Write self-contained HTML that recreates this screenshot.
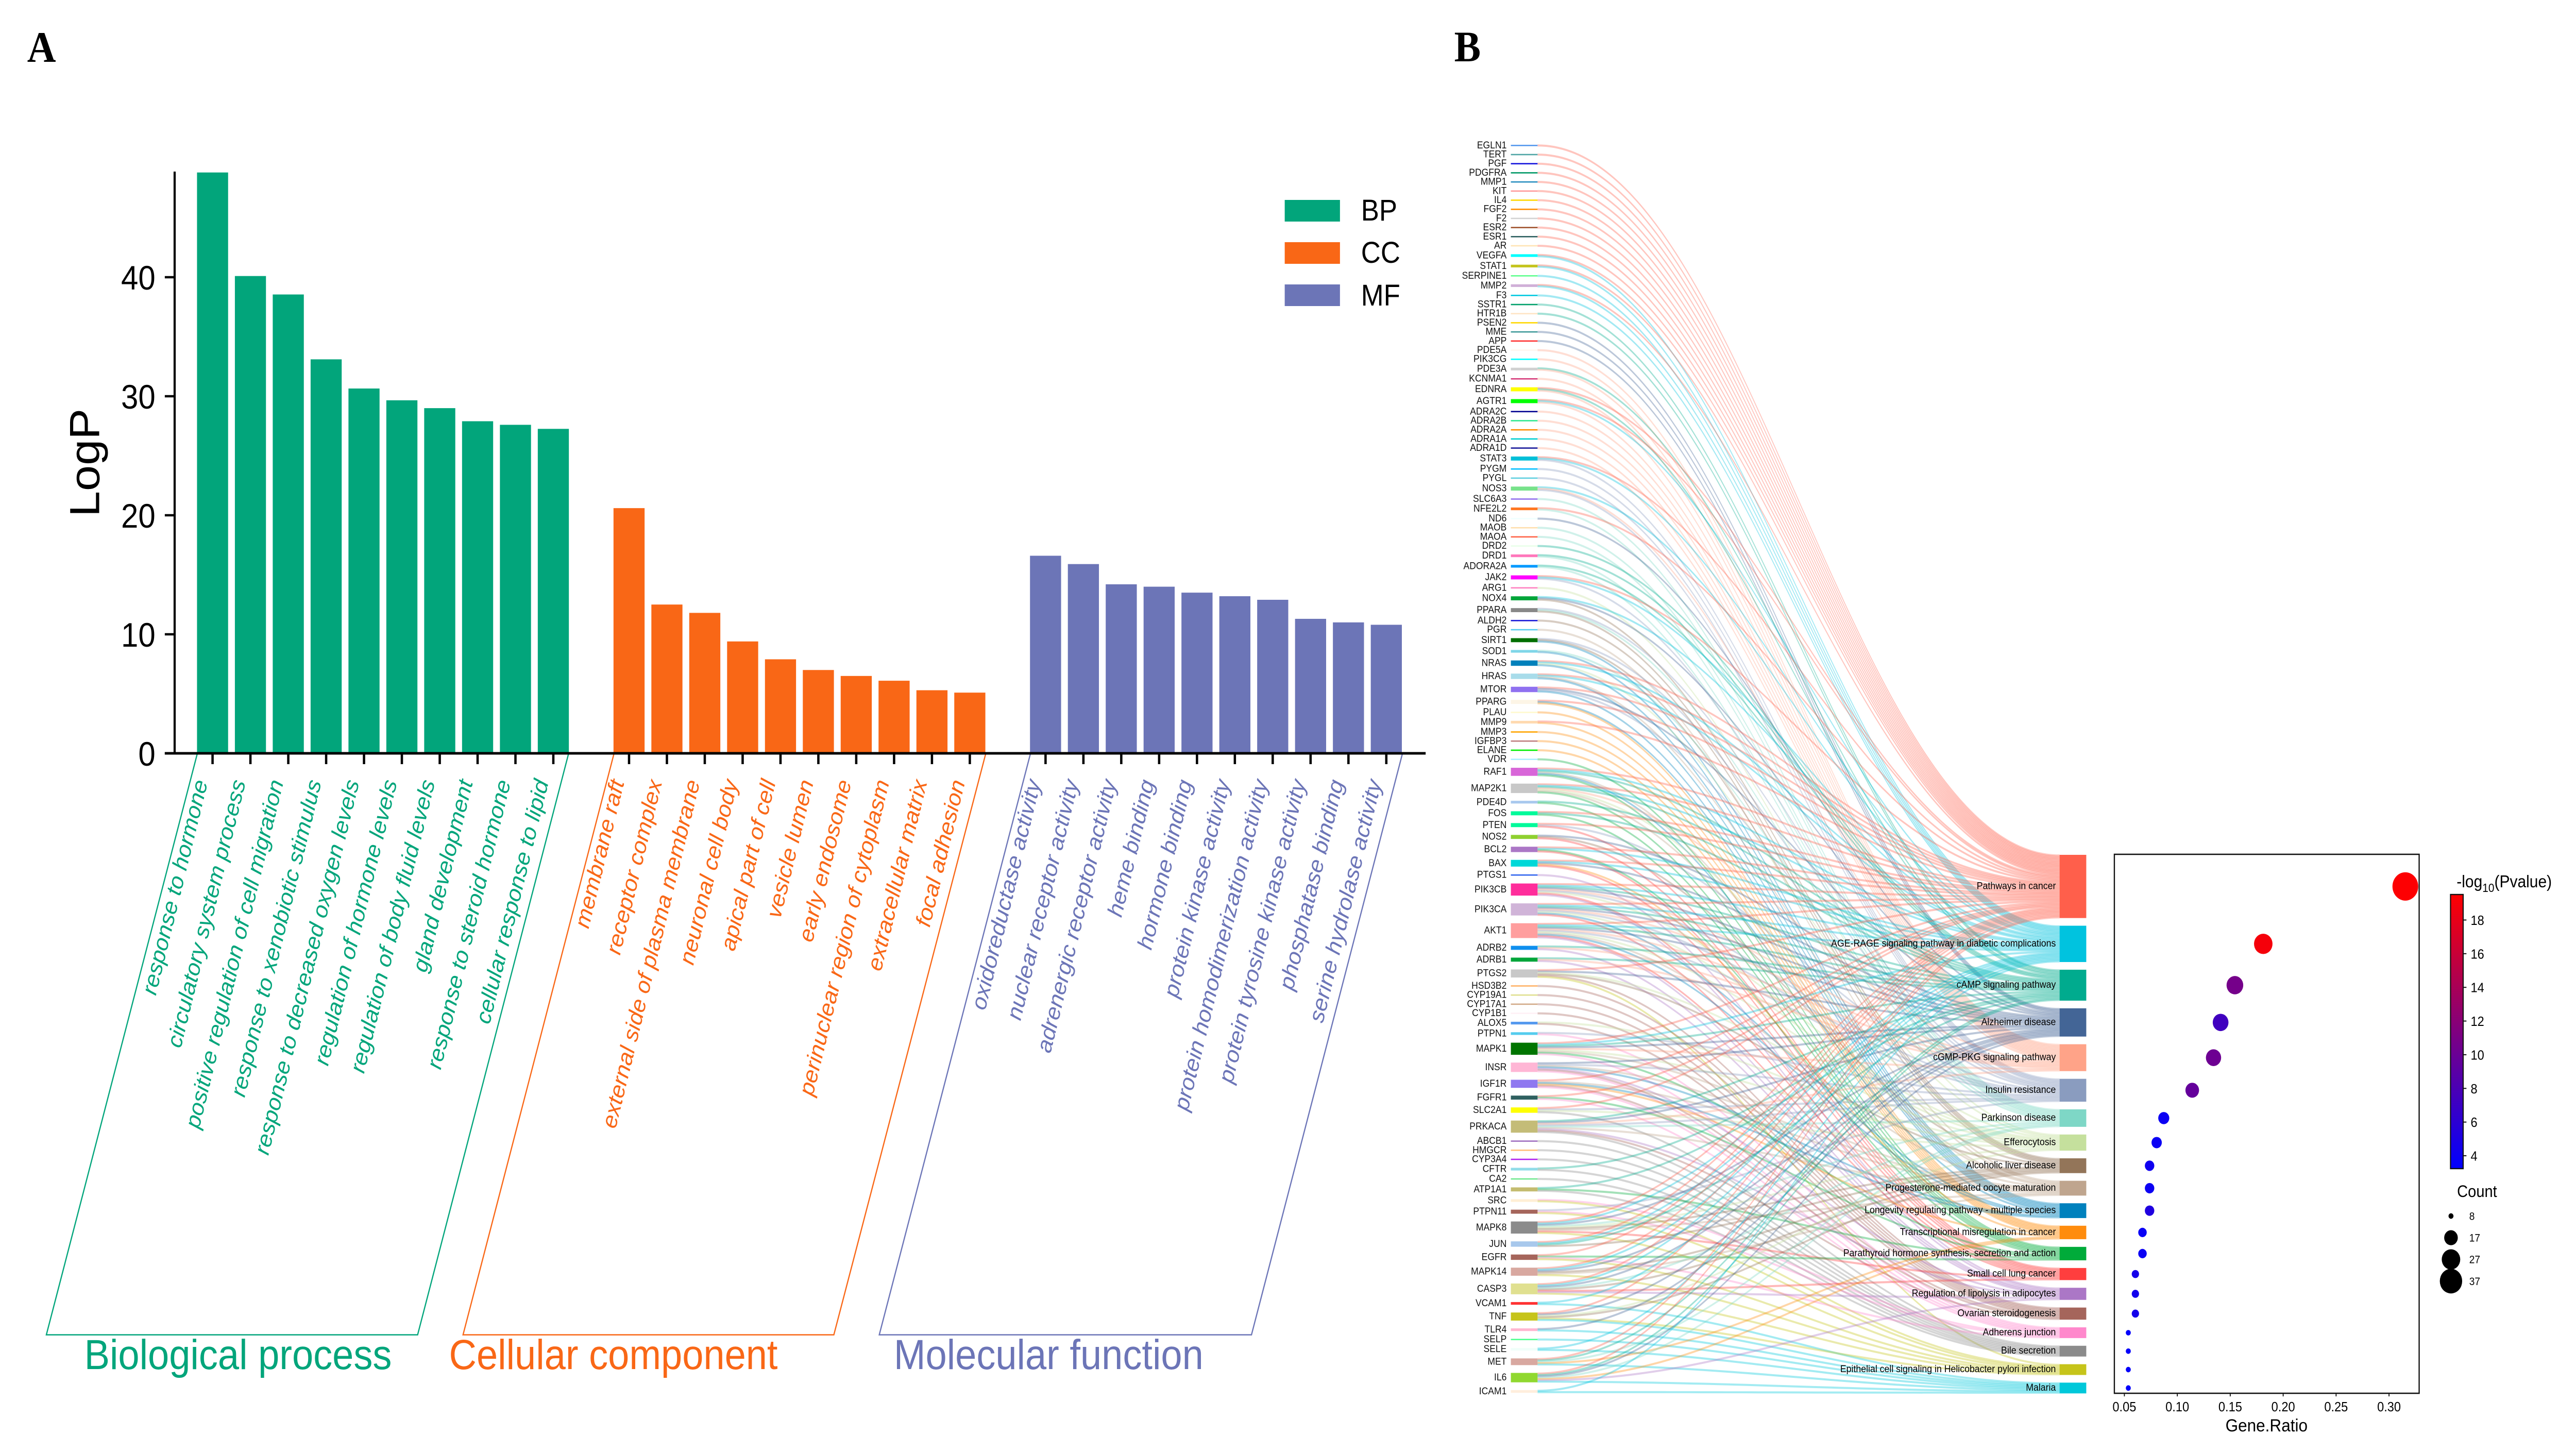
<!DOCTYPE html>
<html lang="en">
<head>
<meta charset="utf-8">
<title>GO enrichment and KEGG Sankey dot plot</title>
<style>
html,body{margin:0;padding:0;background:#fff;width:100%;height:100%;overflow:hidden;}
svg{display:block;position:absolute;left:0;top:0;width:100vw;height:100vh;}
text{font-family:"Liberation Sans",sans-serif;}
</style>
</head>
<body>
<svg id="figure" xmlns="http://www.w3.org/2000/svg" viewBox="0 0 5502 2816" preserveAspectRatio="none">
  <rect x="0" y="0" width="5502" height="2816" fill="#ffffff"/>
  <defs>
    <linearGradient id="cbarGradient" x1="0" y1="1" x2="0" y2="0">
      <stop offset="0" stop-color="#0000ff"/>
      <stop offset="1" stop-color="#ff0000"/>
    </linearGradient>
  </defs>
  <text x="58" y="120" font-size="85" font-weight="bold" style="font-family:'Liberation Serif',serif">A</text>
  <text x="3106" y="119" font-size="85" font-weight="bold" style="font-family:'Liberation Serif',serif">B</text>
  <g id="panelA"></g>
  <g id="flows"></g>
  <g id="geneStrata"></g>
  <g id="pathwayStrata"></g>
  <g id="dotPlot"></g>
</svg>
<script>
// ---------- Panel A data ----------
const bpTerms = ["response to hormone","circulatory system process","positive regulation of cell migration","response to xenobiotic stimulus","response to decreased oxygen levels","regulation of hormone levels","regulation of body fluid levels","gland development","response to steroid hormone","cellular response to lipid"];
const bpValues = [48.8,40.1,38.55,33.1,30.65,29.66,29.0,27.9,27.6,27.26];
const ccTerms = ["membrane raft","receptor complex","external side of plasma membrane","neuronal cell body","apical part of cell","vesicle lumen","early endosome","perinuclear region of cytoplasm","extracellular matrix","focal adhesion"];
const ccValues = [20.6,12.5,11.8,9.4,7.9,7.0,6.5,6.1,5.3,5.1];
const mfTerms = ["oxidoreductase activity","nuclear receptor activity","adrenergic receptor activity","heme binding","hormone binding","protein kinase activity","protein homodimerization activity","protein tyrosine kinase activity","phosphatase binding","serine hydrolase activity"];
const mfValues = [16.6,15.9,14.2,14.0,13.5,13.2,12.9,11.3,11.0,10.8];
const logPTicks = [0,10,20,30,40];

// ---------- Panel B data ----------
const pathwayNames = ["Pathways in cancer","AGE-RAGE signaling pathway in diabetic complications","cAMP signaling pathway","Alzheimer disease","cGMP-PKG signaling pathway","Insulin resistance","Parkinson disease","Efferocytosis","Alcoholic liver disease","Progesterone-mediated oocyte maturation","Longevity regulating pathway - multiple species","Transcriptional misregulation in cancer","Parathyroid hormone synthesis, secretion and action","Small cell lung cancer","Regulation of lipolysis in adipocytes","Ovarian steroidogenesis","Adherens junction","Bile secretion","Epithelial cell signaling in Helicobacter pylori infection","Malaria"];
const pathwayColors = ["#FF5F4B","#00C3DF","#00AB8E","#436596","#FFA388","#8A9CBF","#7ED7C6","#C5E09D","#937559","#BFA58E","#0081BD","#FF8C0D","#00AB3A","#FF3E3E","#AB77C6","#A5655B","#FF88CC","#8B8B8B","#C6C41A","#00C8DA"];
const geneNames = ["EGLN1","TERT","PGF","PDGFRA","MMP1","KIT","IL4","FGF2","F2","ESR2","ESR1","AR","VEGFA","STAT1","SERPINE1","MMP2","F3","SSTR1","HTR1B","PSEN2","MME","APP","PDE5A","PIK3CG","PDE3A","KCNMA1","EDNRA","AGTR1","ADRA2C","ADRA2B","ADRA2A","ADRA1A","ADRA1D","STAT3","PYGM","PYGL","NOS3","SLC6A3","NFE2L2","ND6","MAOB","MAOA","DRD2","DRD1","ADORA2A","JAK2","ARG1","NOX4","PPARA","ALDH2","PGR","SIRT1","SOD1","NRAS","HRAS","MTOR","PPARG","PLAU","MMP9","MMP3","IGFBP3","ELANE","VDR","RAF1","MAP2K1","PDE4D","FOS","PTEN","NOS2","BCL2","BAX","PTGS1","PIK3CB","PIK3CA","AKT1","ADRB2","ADRB1","PTGS2","HSD3B2","CYP19A1","CYP17A1","CYP1B1","ALOX5","PTPN1","MAPK1","INSR","IGF1R","FGFR1","SLC2A1","PRKACA","ABCB1","HMGCR","CYP3A4","CFTR","CA2","ATP1A1","SRC","PTPN11","MAPK8","JUN","EGFR","MAPK14","CASP3","VCAM1","TNF","TLR4","SELP","SELE","MET","IL6","ICAM1"];
const geneColors = ["#5599EE","#4FA5A5","#1414DC","#009966","#2A8FC0","#FF9A9A","#FFD700","#FF8C00","#D3D3D3","#A0522D","#2F6060","#FFE4B5","#00FFFF","#C4C41E","#5FFF8F","#D0B0D8","#00C8E0","#00A06A","#FFE4C4","#FFD700","#3F9A9A","#FF3333","#FFF5EE","#00FFFF","#D0D0D0","#D63A7A","#FFFF00","#00FF00","#000090","#30E890","#FF8C00","#00CED1","#191999","#00BFD8","#00BFFF","#60CFE0","#77E28A","#9370EE","#FF7722","#F0FFFF","#FFDEAD","#FF6347","#E8FFE8","#FF77BB","#0099FF","#FF00FF","#FF80C0","#00A53A","#888888","#1A1AD8","#55CCEE","#006E00","#7FD6E8","#0080BB","#A8DCEA","#8F70F0","#FDF5E6","#FFFACD","#FFDAB0","#FFA500","#C08080","#00EE00","#AAEEFF","#D866D8","#C8C8C8","#A8C8EE","#00FA9A","#00FA9A","#8FD030","#AB77C6","#00D8D8","#3366EE","#FF2D9B","#D0B4D8","#FF9E9E","#0F8FEE","#00A53A","#C8C8C8","#FFB266","#E0E090","#D2AA88","#FFF0F5","#5599EE","#55CCEE","#007500","#FFB6D5","#8F78F0","#2F6060","#FFFF00","#C4BC78","#A070C0","#FFC07A","#B020EE","#90DCE8","#70E890","#C4BC70","#FFEFD5","#A5655B","#8B8B8B","#A8C8EC","#A5655B","#D8A8A0","#E0E090","#FF3333","#C6C41A","#FFB6D0","#50FF90","#F0FFFA","#D8A8A0","#90D830","#FFEEDD"];
// Pathway indices linked to each gene, same order as geneNames
const geneLinks = [[0],[0],[0],[0],[0],[0],[0],[0],[0],[0],[0],[0],[0,1],[0,1],[1],[0,1],[1],[2],[2],[3],[3],[3],[4],[4],[2,4],[4],[0,2,4],[0,1,4],[4],[4],[4],[4],[4],[0,1,5],[5],[5],[1,4,5],[6],[0,6],[3],[6],[6],[2],[2,6],[2,6],[0,1,5],[7],[1,3,8],[5,6,8],[8],[9],[5,8,10],[6,10],[0,1,7,10],[0,1,9,10],[0,3,5,10],[0,10,11],[11],[0,11],[11],[11],[11],[12],[0,1,2,9,10,12],[0,1,2,4,7,9,12],[2,12],[0,2,12],[0,5,13],[3,8,13],[0,1,12,13],[0,1,3,11,13],[14],[0,1,2,3,4,5,7,13,14],[0,1,2,3,4,5,7,10,13],[0,1,2,3,4,5,7,9,10,13,14],[2,4,14],[2,4,14],[0,3,7,8,15,18],[15],[15],[15],[15],[7,15],[5,16],[0,1,2,3,4,7,9,12,16],[3,5,9,10,14,15,16],[0,9,10,11,15,16],[0,12,16],[0,5,7,17],[2,3,4,5,6,9,14,15,17],[17],[17],[17],[2,17],[17],[2,12,17],[16,18],[5,16,18],[0,1,3,6,7,8,9,13,18],[0,1,2,8],[0,12,16,18],[0,1,3,8,9,18],[0,1,3,6,8,13,14,18],[1,19],[0,3,7,8,18,19],[3,19],[19],[1,19],[0,2,6,11,19],[0,2,3,6,11,14,19],[1,19]];
const geneRatios = [0.3154,0.1812,0.1544,0.1409,0.1342,0.1141,0.0872,0.0805,0.0738,0.0738,0.0738,0.0671,0.0671,0.0604,0.0604,0.0604,0.0537,0.0537,0.0537,0.0537];
const minusLogP = [19.4,18.85,10.7,7.3,10.2,9.6,4.0,3.9,4.2,4.0,5.2,3.8,3.9,4.6,4.4,4.5,3.5,3.5,3.5,3.5];
const pathwayCounts = [47,27,23,21,20,17,13,12,11,11,11,10,10,9,9,9,8,8,8,8];
const ratioTicks = [0.05,0.10,0.15,0.20,0.25,0.30];
const colorbarTicks = [4,6,8,10,12,14,16,18];
const countLegend = [8,17,27,37];

// ---------- helpers ----------
const NS = "http://www.w3.org/2000/svg";
function make(parent, tag, attrs, txt) {
  const el = document.createElementNS(NS, tag);
  for (const k in attrs) el.setAttribute(k, attrs[k]);
  if (txt !== undefined) el.textContent = txt;
  parent.appendChild(el);
  return el;
}
function slug(s) { return s.toLowerCase().replace(/[^a-z0-9]+/g, '-').replace(/^-|-$/g, ''); }

// ---------- Panel A ----------
(function () {
  const g = document.getElementById('panelA');
  const y = v => 1462 - v * 23.1;
  const x = i => 454 + i * 80.87;
  const groups = [
    {key: 'bp', terms: bpTerms, values: bpValues, color: '#02A57B', start: 0, title: 'Biological process', titleX: 180, box: [421, 99, 892, 1214]},
    {key: 'cc', terms: ccTerms, values: ccValues, color: '#F96716', start: 11, title: 'Cellular component', titleX: 959, box: [1311, 989, 1781, 2105]},
    {key: 'mf', terms: mfTerms, values: mfValues, color: '#6C75B7', start: 22, title: 'Molecular function', titleX: 1909, box: [2200.5, 1878, 2673, 2995]}
  ];
  groups.forEach(gr => {
    gr.values.forEach((v, i) => {
      const cx = x(gr.start + i);
      const bar = make(g, 'rect', {x: cx - 33.2, y: y(v), width: 66.4, height: 1460 - y(v), fill: gr.color});
      
      
      const tick = make(g, 'line', {x1: cx, x2: cx, y1: 1462, y2: 1483, stroke: '#000', 'stroke-width': 5});
      
      
      const lx = cx - 10, ly = 1518;
      const lab = make(g, 'text', {x: lx, y: ly, 'text-anchor': 'end', 'font-size': 45.5, 'font-style': 'italic', fill: gr.color, transform: 'rotate(-75 ' + lx + ' ' + ly + ')'}, gr.terms[i]);
      
      
    });
    const b = gr.box;
    const box = make(g, 'polyline', {points: b[0] + ',1464 ' + b[1] + ',2590.5 ' + b[2] + ',2590.5 ' + b[3] + ',1464', fill: 'none', stroke: gr.color, 'stroke-width': 2.6});
    
    
    const t = make(g, 'text', {x: gr.titleX, y: 2657, 'font-size': 81.5, fill: gr.color}, gr.title);
    
    
  });
  const yAxis = make(g, 'line', {x1: 373, x2: 373, y1: 333, y2: 1464, stroke: '#000', 'stroke-width': 4.6});
  
  
  const xAxis = make(g, 'line', {x1: 352, x2: 3045, y1: 1462, y2: 1462, stroke: '#000', 'stroke-width': 5});
  
  
  logPTicks.forEach(v => {
    const t = make(g, 'line', {x1: 352, x2: 373, y1: y(v), y2: y(v), stroke: '#000', 'stroke-width': 4.6});
    
    
    const l = make(g, 'text', {x: 332, y: y(v) + 24, 'text-anchor': 'end', 'font-size': 66, fill: '#000'}, String(v));
    
    
  });
  const yt = make(g, 'text', {x: 212, y: 1003, 'font-size': 90, fill: '#000', transform: 'rotate(-90 212 1003)'}, 'LogP');
  
  
  [['BP', '#02A57B', 388, 428], ['CC', '#F96716', 470, 510], ['MF', '#6C75B7', 552, 593]].forEach(e => {
    const r = make(g, 'rect', {x: 2744, y: e[2], width: 118, height: 42, fill: e[1]});
    
    
    const t = make(g, 'text', {x: 2907, y: e[3], 'font-size': 58, fill: '#000'}, e[0]);
    
    
  });
})();

// ---------- Panel B: Sankey ----------
const unit = 2.61;
const flowThickness = 4;
const geneTop = 281, geneGap = 15.09;
const pathTop = 1659, pathGap = 14.9;
const geneX0 = 3227, geneX1 = 3284, pathX0 = 4399, pathX1 = 4456;
const pathwayTotals = pathwayNames.map((_, p) => geneLinks.reduce((s, l) => s + l.filter(q => q === p).length, 0));
function stackPositions(sizes, top, gap) {
  const out = [];
  let y = top;
  sizes.forEach(n => { out.push(y); y += n * unit + gap; });
  return out;
}
const geneYs = stackPositions(geneLinks.map(l => l.length), geneTop, geneGap);
const pathYs = stackPositions(pathwayTotals, pathTop, pathGap);

(function () {
  const flows = document.getElementById('flows');
  const geneG = document.getElementById('geneStrata');
  const pathG = document.getElementById('pathwayStrata');
  const used = pathwayNames.map(() => 0);
  const c = 0.4 * (pathX0 - geneX1);
  const pad = (flowThickness - unit) / 2;
  geneLinks.forEach((links, gi) => {
    links.forEach((p, k) => {
      const y0 = geneYs[gi] + k * unit - pad;
      const y1 = pathYs[p] + used[p] * unit - pad;
      used[p]++;
      const d = 'M' + geneX1 + ' ' + y0 +
        'C' + (geneX1 + c) + ' ' + y0 + ' ' + (pathX0 - c) + ' ' + y1 + ' ' + pathX0 + ' ' + y1 +
        'L' + pathX0 + ' ' + (y1 + flowThickness) +
        'C' + (pathX0 - c) + ' ' + (y1 + flowThickness) + ' ' + (geneX1 + c) + ' ' + (y0 + flowThickness) + ' ' + geneX1 + ' ' + (y0 + flowThickness) + 'Z';
      const f = make(flows, 'path', {d: d, fill: pathwayColors[p], 'fill-opacity': 0.36});
      
      
    });
    const h = links.length * unit;
    const r = make(geneG, 'rect', {x: geneX0, y: geneYs[gi], width: geneX1 - geneX0, height: h, fill: geneColors[gi]});
    
    
    const t = make(geneG, 'text', {x: 3218, y: geneYs[gi] + h / 2 + 5.5, 'text-anchor': 'end', 'font-size': 19.3, fill: '#111'}, geneNames[gi]);
    
    
  });
  pathwayNames.forEach((name, p) => {
    const h = pathwayTotals[p] * unit;
    const r = make(pathG, 'rect', {x: pathX0, y: pathYs[p], width: pathX1 - pathX0, height: h, fill: pathwayColors[p]});
    
    
    const t = make(pathG, 'text', {x: 4391, y: pathYs[p] + h / 2 + 5, 'text-anchor': 'end', 'font-size': 19.5, fill: '#000'}, name);
    
    
  });
})();

// ---------- Panel B: dot plot ----------
(function () {
  const g = document.getElementById('dotPlot');
  const x = r => 4537.4 + (r - 0.05) * 2261;
  const cbY = v => 2243 - (v - 4) * 32.68;
  const diam = n => 10.7 + 44.3 * Math.pow((n - 8) / 39, 0.6);
  const cbMin = 3.23, cbMax = 19.5;
  const col = v => {
    const t = Math.min(1, Math.max(0, (v - cbMin) / (cbMax - cbMin)));
    return 'rgb(' + Math.round(255 * t) + ',0,' + Math.round(255 * (1 - t)) + ')';
  };
  const frame = make(g, 'rect', {x: 4516, y: 1658, width: 651, height: 1046, fill: 'none', stroke: '#111', 'stroke-width': 2.6});
  
  
  geneRatios.forEach((r, i) => {
    const cy = pathYs[i] + pathwayTotals[i] * unit / 2;
    const dot = make(g, 'circle', {cx: x(r), cy: cy, r: diam(pathwayCounts[i]) / 2, fill: col(minusLogP[i])});
    
    
  });
  ratioTicks.forEach(v => {
    const t = make(g, 'line', {x1: x(v), x2: x(v), y1: 2704, y2: 2710, stroke: '#111', 'stroke-width': 2});
    
    
    const l = make(g, 'text', {x: x(v), y: 2739, 'text-anchor': 'middle', 'font-size': 26, fill: '#000'}, v.toFixed(2));
    
    
  });
  const xt = make(g, 'text', {x: 4841, y: 2778, 'text-anchor': 'middle', 'font-size': 34.7, fill: '#000'}, 'Gene.Ratio');
  
  

  const title = make(g, 'text', {x: 5247, y: 1722, 'font-size': 33, fill: '#000'});
  
  
  make(title, 'tspan', {}, '-log');
  make(title, 'tspan', {'font-size': 23, dy: 9}, '10');
  make(title, 'tspan', {dy: -9}, '(Pvalue)');

  const bar = make(g, 'rect', {x: 5234, y: 1736, width: 27, height: 532, fill: 'url(#cbarGradient)', stroke: '#111', 'stroke-width': 2.4});
  
  
  colorbarTicks.forEach(v => {
    const t = make(g, 'line', {x1: 5261, x2: 5268, y1: cbY(v), y2: cbY(v), stroke: '#111', 'stroke-width': 2});
    
    
    const l = make(g, 'text', {x: 5277, y: cbY(v) + 9.5, 'font-size': 26, fill: '#000'}, String(v));
    
    
  });
  const ct = make(g, 'text', {x: 5248, y: 2323, 'font-size': 32, fill: '#000'}, 'Count');
  
  
  countLegend.forEach((n, i) => {
    const cy = 2360 + i * 42.1;
    const c = make(g, 'circle', {cx: 5235, cy: cy, r: diam(n) / 2, fill: '#000'});
    
    
    const l = make(g, 'text', {x: 5274, y: cy + 7.5, 'font-size': 21, fill: '#000'}, String(n));
    
    
  });
})();
</script>
</body>
</html>
